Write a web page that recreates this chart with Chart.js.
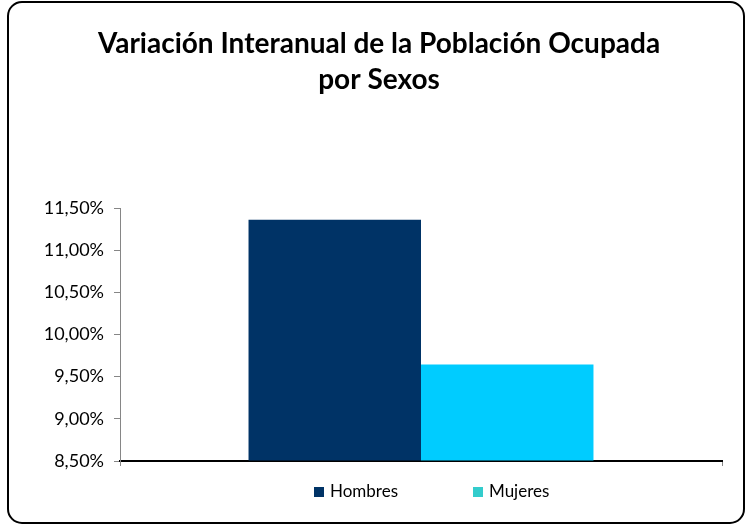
<!DOCTYPE html>
<html lang="es">
<head>
    <meta charset="UTF-8">
    <script src="https://cdn.jsdelivr.net/npm/chart.js@4.4.1/dist/chart.umd.min.js"></script>
    <style>
        html, body {
            margin: 0;
            padding: 0;
            background: #fff;
        }

        #wrap {
            width: 745px;
            height: 526px;
        }
    </style>
    <title>Variación Interanual de la Población Ocupada por Sexos</title>
</head>
<body>
    <div id="wrap">
        <canvas id="chartCanvas" width="745" height="526"></canvas>
    </div>

    <script>
        const categories = [''];
        const seriesNames = ['Hombres', 'Mujeres'];
        const hombres = [11.36];
        const mujeres = [9.645];
        const yTicks = [8.5, 9.0, 9.5, 10.0, 10.5, 11.0, 11.5];
        const titleLines = ['Variación Interanual de la Población Ocupada', 'por Sexos'];

        const barColors = ['#003366', '#00CCFF'];
        const legendColors = ['#003366', '#33CCCC'];
        const fontFamily = 'Lato, "Open Sans", sans-serif';

        // rounded frame around the whole chart + title (centred a bit right of the plot)
        const framePlugin = {
            id: 'frame',
            afterDraw(chart) {
                const ctx = chart.ctx;
                ctx.save();
                ctx.strokeStyle = '#000';
                ctx.lineWidth = 2;
                ctx.beginPath();
                ctx.roundRect(8, 2, 736, 521, 14);
                ctx.stroke();

                ctx.fillStyle = '#000';
                ctx.font = 'bold 28px ' + fontFamily;
                ctx.textAlign = 'center';
                ctx.textBaseline = 'middle';
                titleLines.forEach((line, i) => ctx.fillText(line, 379, 44 + i * 36));
                ctx.restore();
            }
        };

        // legend drawn below the plot, items spread apart like the original
        const legendPlugin = {
            id: 'bottomLegend',
            afterDraw(chart) {
                const ctx = chart.ctx;
                const starts = [314, 473];
                const y = 492;
                ctx.save();
                ctx.font = '17px ' + fontFamily;
                ctx.textBaseline = 'middle';
                seriesNames.forEach((name, i) => {
                    ctx.fillStyle = legendColors[i];
                    ctx.fillRect(starts[i], y - 5, 10, 10);
                    ctx.fillStyle = '#000';
                    ctx.fillText(name, starts[i] + 16, y);
                });
                ctx.restore();
            }
        };

        const formatPct = (v) => v.toFixed(2).replace('.', ',') + '%';

        new Chart(document.getElementById('chartCanvas'), {
            type: 'bar',
            data: {
                labels: categories,
                datasets: [
                    { label: seriesNames[0], data: hombres, backgroundColor: barColors[0] },
                    { label: seriesNames[1], data: mujeres, backgroundColor: barColors[1] }
                ]
            },
            options: {
                responsive: false,
                animation: false,
                datasets: {
                    bar: {
                        categoryPercentage: 0.573,
                        barPercentage: 1.0,
                        base: 8.5
                    }
                },
                layout: {
                    padding: { left: 0, right: 23, top: 208, bottom: 60 }
                },
                plugins: {
                    legend: { display: false },
                    tooltip: { enabled: false },
                    title: { display: false }
                },
                scales: {
                    x: {
                        grid: {
                            display: true,
                            drawOnChartArea: false,
                            drawTicks: true,
                            tickLength: 5,
                            color: '#868686'
                        },
                        border: { display: true, color: '#000', width: 2 },
                        ticks: { display: false }
                    },
                    y: {
                        min: 8.5,
                        max: 11.5,
                        afterFit(scale) { scale.width = 120; },
                        afterBuildTicks(scale) {
                            scale.ticks = yTicks.map(v => ({ value: v }));
                        },
                        grid: {
                            drawOnChartArea: false,
                            drawTicks: true,
                            tickLength: 6,
                            color: '#868686'
                        },
                        border: { display: true, color: '#868686', width: 1 },
                        ticks: {
                            color: '#000',
                            padding: 10,
                            font: { family: fontFamily, size: 18 },
                            callback: (v) => formatPct(v)
                        }
                    }
                }
            },
            plugins: [framePlugin, legendPlugin]
        });
    </script>
</body>
</html>
